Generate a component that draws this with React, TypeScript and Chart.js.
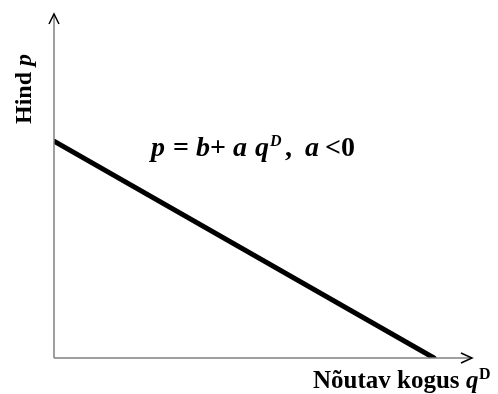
import React, { useEffect, useRef } from "react";
import { Chart, registerables } from "chart.js";

Chart.register(...registerables);

const quantities = [0, 10];
const prices = [7, 0];
const xMax = 11;
const yMax = 11.1;
const yAxisTitle = ["Hind ", "p"];
const xAxisTitle = ["Nõutav kogus ", "q", "D"];
const equationParts = ["p", "=", "b", "+", "a", "q", "D", ",", "a", "<", "0"];

const FONT = '"Liberation Serif", "Times New Roman", serif';

type Seg = { t: string; f: string; x: number; dy?: number };

function drawSegs(ctx: CanvasRenderingContext2D, segs: Seg[], y: number) {
  for (const s of segs) {
    ctx.font = s.f;
    ctx.fillText(s.t, s.x, y + (s.dy || 0));
  }
}

const overlay = {
  id: "overlay",
  afterDatasetsDraw(chart: any) {
    const ctx: CanvasRenderingContext2D = chart.ctx;
    const { left, right, top, bottom } = chart.chartArea;
    ctx.save();
    // axes
    ctx.strokeStyle = "#808080";
    ctx.lineWidth = 1.5;
    ctx.beginPath();
    ctx.moveTo(left, bottom);
    ctx.lineTo(left, top);
    ctx.moveTo(left, bottom);
    ctx.lineTo(right, bottom);
    ctx.stroke();
    // arrows
    ctx.strokeStyle = "#000";
    ctx.lineWidth = 1.5;
    ctx.beginPath();
    ctx.moveTo(left - 5, top + 10);
    ctx.lineTo(left, top);
    ctx.lineTo(left + 5, top + 10);
    ctx.moveTo(right - 11, bottom - 5);
    ctx.lineTo(right, bottom);
    ctx.lineTo(right - 11, bottom + 5);
    ctx.stroke();

    ctx.fillStyle = "#000";
    ctx.textBaseline = "alphabetic";
    const B = `bold 24px ${FONT}`;
    const XB = `bold 25px ${FONT}`;
    const XBI = `italic bold 25px ${FONT}`;
    const BI = `italic bold 24px ${FONT}`;
    const EB = `bold 28px ${FONT}`;
    const EBI = `italic bold 28px ${FONT}`;
    const SUP = `italic bold 16px ${FONT}`;
    const SUPU = `bold 16px ${FONT}`;

    // equation
    drawSegs(
      ctx,
      [
        { t: equationParts[0], f: EBI, x: 151 },
        { t: equationParts[1], f: EB, x: 173 },
        { t: equationParts[2], f: EBI, x: 196 },
        { t: equationParts[3], f: EB, x: 210 },
        { t: equationParts[4], f: EBI, x: 233 },
        { t: equationParts[5], f: EBI, x: 255 },
        { t: equationParts[6], f: SUP, x: 270, dy: -10 },
        { t: equationParts[7], f: EB, x: 285 },
        { t: equationParts[8], f: EBI, x: 305 },
        { t: equationParts[9], f: EB, x: 325 },
        { t: equationParts[10], f: EB, x: 341 },
      ],
      156
    );

    // x axis title
    drawSegs(
      ctx,
      [
        { t: xAxisTitle[0], f: XB, x: 313 },
        { t: xAxisTitle[1], f: XBI, x: 466 },
        { t: xAxisTitle[2], f: SUPU, x: 479, dy: -9 },
      ],
      388
    );

    // y axis title
    ctx.translate(31, 124);
    ctx.rotate(-Math.PI / 2);
    ctx.font = B;
    const w = ctx.measureText(yAxisTitle[0]).width;
    drawSegs(
      ctx,
      [
        { t: yAxisTitle[0], f: B, x: 0 },
        { t: yAxisTitle[1], f: BI, x: w },
      ],
      0
    );
    ctx.restore();
  },
};

export default function App() {
  const ref = useRef<HTMLCanvasElement>(null);
  useEffect(() => {
    document.body.style.margin = "0";
    const chart = new Chart(ref.current!, {
      type: "line",
      data: {
        datasets: [
          {
            data: quantities.map((q, i) => ({ x: q, y: prices[i] })),
            borderColor: "#000",
            borderWidth: 5,
            pointRadius: 0,
            borderCapStyle: "round",
            fill: false,
          },
        ],
      },
      options: {
        responsive: false,
        animation: false,
        events: [],
        layout: { padding: { left: 54, right: 26, top: 14, bottom: 36 } },
        plugins: { legend: { display: false }, tooltip: { enabled: false } },
        scales: {
          x: { type: "linear", min: 0, max: xMax, display: false },
          y: { type: "linear", min: 0, max: yMax, display: false },
        },
      },
      plugins: [overlay],
    });
    return () => chart.destroy();
  }, []);
  return (
    <div style={{ position: "absolute", left: 0, top: 0, width: 498, height: 394, background: "#fff" }}>
      <canvas ref={ref} width={498} height={394} />
    </div>
  );
}
